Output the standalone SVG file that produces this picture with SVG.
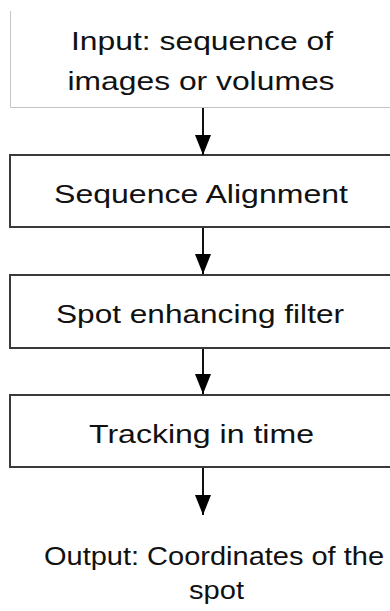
<svg xmlns="http://www.w3.org/2000/svg" width="390" height="611" viewBox="0 0 390 611">
<style>
.t{font-family:"Liberation Sans",Arial,sans-serif;font-size:26px;fill:#111;}
.box{fill:#fff;stroke:#3a3a3a;stroke-width:2;}
.conn{stroke:#111;stroke-width:2;fill:none;marker-end:url(#ah);}
</style>
<defs>
<marker id="ah" markerUnits="userSpaceOnUse" markerWidth="20" markerHeight="16" refX="20" refY="8" orient="auto">
<path d="M0,0 L20,8 L0,16 z" fill="#000"/>
</marker>
</defs>
<rect width="390" height="611" fill="#fff"/>
<g id="input">
<path d="M10.5,11 V107.5 H390" fill="none" stroke="#c4c4c4" stroke-width="1"/>
<text class="t" x="202" y="50" text-anchor="middle" textLength="262" lengthAdjust="spacingAndGlyphs">Input: sequence of</text>
<text class="t" x="201" y="90" text-anchor="middle" textLength="267" lengthAdjust="spacingAndGlyphs">images or volumes</text>
</g>
<g id="align">
<rect class="box" x="10" y="155" width="400" height="72"/>
<text class="t" x="201" y="203" text-anchor="middle" textLength="294" lengthAdjust="spacingAndGlyphs">Sequence Alignment</text>
</g>
<g id="filter">
<rect class="box" x="10" y="275" width="400" height="73"/>
<text class="t" x="200" y="323" text-anchor="middle" textLength="288" lengthAdjust="spacingAndGlyphs">Spot enhancing filter</text>
</g>
<g id="tracking">
<rect class="box" x="10" y="395" width="400" height="72"/>
<text class="t" x="201.5" y="443" text-anchor="middle" textLength="225" lengthAdjust="spacingAndGlyphs">Tracking in time</text>
</g>
<g id="output">
<text class="t" x="214" y="565" text-anchor="middle" textLength="340" lengthAdjust="spacingAndGlyphs">Output: Coordinates of the</text>
<text class="t" x="216.5" y="599" text-anchor="middle" textLength="55" lengthAdjust="spacingAndGlyphs">spot</text>
</g>
<g id="connectors">
<line class="conn" x1="203" y1="108" x2="203" y2="155"/>
<line class="conn" x1="203" y1="228" x2="203" y2="274"/>
<line class="conn" x1="203" y1="349" x2="203" y2="394"/>
<line class="conn" x1="203" y1="468" x2="203" y2="515"/>
</g>
</svg>
